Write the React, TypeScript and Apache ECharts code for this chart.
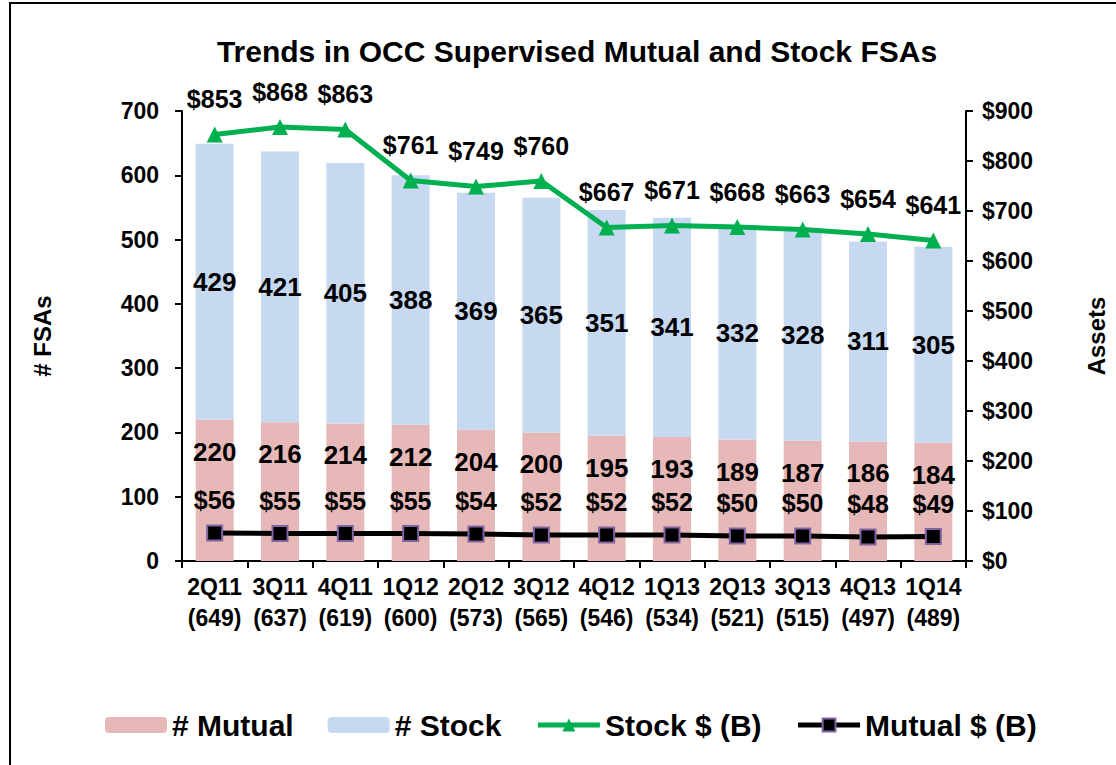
import React, { useEffect, useRef } from "react";
import * as echarts from "echarts";

const categories = ["2Q11\n(649)", "3Q11\n(637)", "4Q11\n(619)", "1Q12\n(600)", "2Q12\n(573)", "3Q12\n(565)", "4Q12\n(546)", "1Q13\n(534)", "2Q13\n(521)", "3Q13\n(515)", "4Q13\n(497)", "1Q14\n(489)"];
const mutualCount = [220, 216, 214, 212, 204, 200, 195, 193, 189, 187, 186, 184];
const stockCount = [429, 421, 405, 388, 369, 365, 351, 341, 332, 328, 311, 305];
const stockAssets = [853, 868, 863, 761, 749, 760, 667, 671, 668, 663, 654, 641];
const mutualAssets = [56, 55, 55, 55, 54, 52, 52, 52, 50, 50, 48, 49];
const leftTicks = { min: 0, max: 700, interval: 100 };
const rightTicks = { min: 0, max: 900, interval: 100 };

const FONT = "Liberation Sans";

export default function App() {
  const ref = useRef<HTMLDivElement>(null);
  useEffect(() => {
    if (!ref.current) return;
    const chart = echarts.init(ref.current, undefined, { renderer: "svg" });
    const bold = { fontFamily: FONT, fontWeight: "bold" as const, color: "#000" };
    chart.setOption({
      animation: false,
      backgroundColor: "#fff",
      title: {
        text: "Trends in OCC Supervised Mutual and Stock FSAs",
        left: 572,
        textAlign: "center",
        top: 31,
        textStyle: { ...bold, fontSize: 30 },
      },
      graphic: [
        {
          type: "rect",
          shape: { x: 10, y: 3, width: 1300, height: 900 },
          style: { fill: "none", stroke: "#000", lineWidth: 2 },
          silent: true,
          z: 100,
        },
      ],
      legend: {
        top: 705,
        left: 100,
        itemWidth: 62,
        itemHeight: 16,
        itemGap: 34,
        textStyle: { ...bold, fontSize: 30, padding: [0, 0, 0, 0] },
        data: [
          { name: "# Mutual" },
          { name: "# Stock" },
          { name: "Stock $ (B)", lineStyle: { width: 5 } },
          { name: "Mutual $ (B)", lineStyle: { width: 5 } },
        ],
      },
      grid: { left: 182, right: 115, top: 111, bottom: 204, containLabel: false },
      xAxis: {
        type: "category",
        data: categories,
        axisLine: { lineStyle: { color: "#000", width: 2 } },
        axisTick: { show: true, alignWithLabel: false, length: 7, lineStyle: { color: "#000", width: 2 } },
        axisLabel: { ...bold, fontSize: 23, lineHeight: 31, margin: 10, interval: 0 },
      },
      yAxis: [
        {
          type: "value",
          ...leftTicks,
          name: "# FSAs",
          nameLocation: "middle",
          nameGap: 128,
          nameTextStyle: { ...bold, fontSize: 24 },
          axisLine: { show: true, lineStyle: { color: "#000", width: 2 } },
          axisTick: { show: true, length: 7, lineStyle: { color: "#000", width: 2 } },
          axisLabel: { ...bold, fontSize: 23, margin: 23 },
          splitLine: { show: false },
        },
        {
          type: "value",
          ...rightTicks,
          position: "right",
          name: "Assets",
          nameLocation: "middle",
          nameGap: 118,
          nameTextStyle: { ...bold, fontSize: 24 },
          axisLine: { show: true, lineStyle: { color: "#000", width: 2 } },
          axisTick: { show: true, length: 7, lineStyle: { color: "#000", width: 2 } },
          axisLabel: { ...bold, fontSize: 23, margin: 16, formatter: (v: number) => "$" + v },
          splitLine: { show: false },
        },
      ],
      series: [
        {
          name: "# Mutual",
          type: "bar",
          stack: "n",
          data: mutualCount,
          barWidth: 38,
          itemStyle: { color: "#e6b9b8" },
          label: { show: true, position: "insideTop", distance: 19, ...bold, fontSize: 26 },
        },
        {
          name: "# Stock",
          type: "bar",
          stack: "n",
          data: stockCount,
          barWidth: 38,
          itemStyle: { color: "#c6d9f1" },
          label: { show: true, position: "inside", ...bold, fontSize: 26 },
        },
        {
          name: "Stock $ (B)",
          type: "line",
          yAxisIndex: 1,
          data: stockAssets,
          symbol: "triangle",
          symbolSize: 16,
          lineStyle: { color: "#00b050", width: 5 },
          itemStyle: { color: "#00b050" },
          label: { show: true, position: "top", distance: 15, ...bold, fontSize: 25, formatter: (p: any) => "$" + p.value },
          z: 5,
        },
        {
          name: "Mutual $ (B)",
          type: "line",
          yAxisIndex: 1,
          data: mutualAssets,
          symbol: "rect",
          symbolSize: 15,
          lineStyle: { color: "#000", width: 5 },
          itemStyle: { color: "#000", borderColor: "#8064a2", borderWidth: 2 },
          label: { show: true, position: "top", distance: 12, ...bold, fontSize: 25, formatter: (p: any) => "$" + p.value },
          z: 5,
        },
      ],
    });
    return () => chart.dispose();
  }, []);
  return <div ref={ref} style={{ position: "fixed", left: 0, top: 0, width: 1116, height: 765 }} />;
}
